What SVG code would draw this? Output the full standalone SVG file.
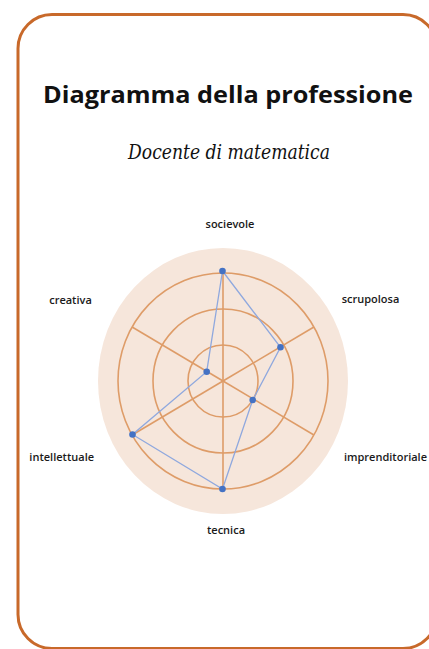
<svg xmlns="http://www.w3.org/2000/svg" width="429" height="649" viewBox="0 0 429 649">
<style>
.lbl{font-family:"Open Sans","Liberation Sans",sans-serif;font-size:11px;fill:#1a1a1a;text-anchor:middle;font-weight:600}
.ring{fill:none;stroke:#DE9C68;stroke-width:1.6}
.spoke{stroke:#DE9C68;stroke-width:1.6}
.dot{fill:#4472C4}
</style>
<rect width="429" height="649" fill="#ffffff"/>
<rect id="frame" x="18" y="14.5" width="419" height="634" rx="34" ry="34" fill="#ffffff" stroke="#C8692A" stroke-width="3"/>
<g id="title">
<text x="228" y="102.5" font-family="Open Sans, Liberation Sans, sans-serif" font-size="23.5" font-weight="bold" text-anchor="middle" fill="#111" textLength="370" lengthAdjust="spacingAndGlyphs">Diagramma della professione</text>
</g>
<g id="subtitle">
<text x="229" y="159" font-family="DejaVu Serif, Liberation Serif, serif" font-style="italic" font-size="20" text-anchor="middle" fill="#111" textLength="202" lengthAdjust="spacingAndGlyphs">Docente di matematica</text>
</g>
<g id="radar-grid">
<ellipse cx="223" cy="381" rx="125" ry="133" fill="#F6E6DB"/>
<ellipse class="ring" cx="223" cy="381" rx="105" ry="108"/>
<ellipse class="ring" cx="223" cy="381" rx="70" ry="72"/>
<ellipse class="ring" cx="223" cy="381" rx="35" ry="36"/>
<line class="spoke" x1="223" y1="381" x2="223" y2="273"/>
<line class="spoke" x1="223" y1="381" x2="223" y2="489"/>
<line class="spoke" x1="223" y1="381" x2="313.9" y2="327"/>
<line class="spoke" x1="223" y1="381" x2="313.9" y2="435"/>
<line class="spoke" x1="223" y1="381" x2="132.1" y2="327"/>
<line class="spoke" x1="223" y1="381" x2="132.1" y2="435"/>
</g>
<g id="connectors">
<polygon points="222.5,271 280.5,347.3 252.7,400 222.5,489 132.5,434.5 206.7,371.7" fill="none" stroke="#8FA8DE" stroke-width="1.3"/>
</g>
<g id="node-socievole"><circle class="dot" cx="222.5" cy="271" r="3.3"/><text class="lbl" x="230" y="228">socievole</text></g>
<g id="node-scrupolosa"><circle class="dot" cx="280.5" cy="347.3" r="3.3"/><text class="lbl" x="370.5" y="302.5">scrupolosa</text></g>
<g id="node-imprenditoriale"><circle class="dot" cx="252.7" cy="400" r="3.3"/><text class="lbl" x="385.5" y="461">imprenditoriale</text></g>
<g id="node-tecnica"><circle class="dot" cx="222.5" cy="489" r="3.3"/><text class="lbl" x="226" y="534">tecnica</text></g>
<g id="node-intellettuale"><circle class="dot" cx="132.5" cy="434.5" r="3.3"/><text class="lbl" x="61.7" y="461">intellettuale</text></g>
<g id="node-creativa"><circle class="dot" cx="206.7" cy="371.7" r="3.3"/><text class="lbl" x="70.5" y="304">creativa</text></g>
</svg>
